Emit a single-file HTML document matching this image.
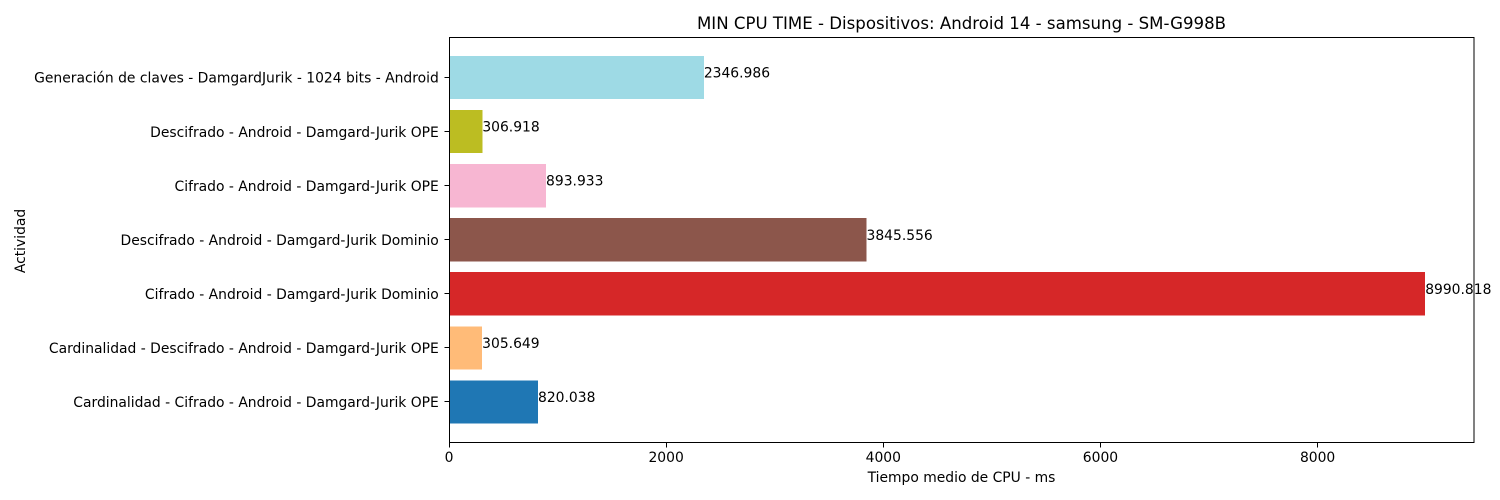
<!DOCTYPE html>
<html lang="es">
<head>
<meta charset="utf-8">
<title>MIN CPU TIME</title>
<style>
html,body{margin:0;padding:0;background:#fff;}
#chart{display:block;width:1500px;height:500px;}
text{font-family:"DejaVu Sans","Liberation Sans",sans-serif;fill:#000;font-size:13.89px;}
</style>
</head>
<body>
<svg id="chart" xmlns="http://www.w3.org/2000/svg" width="1500" height="500" viewBox="0 0 1500 500">
  <rect x="0" y="0" width="1500" height="500" fill="#ffffff"/>
  <g id="bars" shape-rendering="crispEdges"></g>
  <g id="ticks"></g>
  <rect x="449.5" y="37.5" width="1024.5" height="405" fill="none" stroke="#000" stroke-width="1" shape-rendering="crispEdges"/>
  <g id="values"></g>
  <text x="961.5" y="29" text-anchor="middle" style="font-size:16.6px">MIN CPU TIME - Dispositivos: Android 14 - samsung - SM-G998B</text>
  <text x="961.5" y="482" text-anchor="middle">Tiempo medio de CPU - ms</text>
  <text x="0" y="0" text-anchor="middle" transform="translate(25 241) rotate(-90)">Actividad</text>
</svg>
<script>
const categories = [
  "Cardinalidad - Cifrado - Android - Damgard-Jurik OPE",
  "Cardinalidad - Descifrado - Android - Damgard-Jurik OPE",
  "Cifrado - Android - Damgard-Jurik Dominio",
  "Descifrado - Android - Damgard-Jurik Dominio",
  "Cifrado - Android - Damgard-Jurik OPE",
  "Descifrado - Android - Damgard-Jurik OPE",
  "Generación de claves - DamgardJurik - 1024 bits - Android"
];
const seriesValues = [820.038, 305.649, 8990.818, 3845.556, 893.933, 306.918, 2346.986];
const barColors = ["#1f77b4", "#ffbb78", "#d62728", "#8c564b", "#f7b6d2", "#bcbd22", "#9edae5"];
const xTickValues = [0, 2000, 4000, 6000, 8000];

const NS = "http://www.w3.org/2000/svg";
const plotLeft = 449, plotRight = 1474, plotTop = 37.5, plotBottom = 442;
const xMax = 9440.36;
const yMin = -0.74, yMax = categories.length - 1 + 0.74;
const barThickness = 0.8;

function xScale(v) {
  return plotLeft + (v / xMax) * (plotRight - plotLeft);
}
function yScale(i) {
  return plotBottom - ((i - yMin) / (yMax - yMin)) * (plotBottom - plotTop);
}
function slug(s) {
  return s.toLowerCase().normalize("NFD").replace(/[^a-z0-9]+/g, "-").replace(/^-|-$/g, "");
}

const barsG = document.getElementById("bars");
const ticksG = document.getElementById("ticks");
const valuesG = document.getElementById("values");

categories.forEach(function (cat, i) {
  const v = seriesValues[i];
  const yc = yScale(i);
  const yTop = yScale(i + barThickness / 2);
  const yBot = yScale(i - barThickness / 2);

  const bar = document.createElementNS(NS, "rect");
  bar.setAttribute("x", xScale(0));
  bar.setAttribute("y", yTop);
  bar.setAttribute("width", xScale(v) - xScale(0));
  bar.setAttribute("height", yBot - yTop);
  bar.setAttribute("fill", barColors[i]);
  
  
  barsG.appendChild(bar);

  const tickY = Math.floor(yc) + 0.5;
  const tick = document.createElementNS(NS, "line");
  tick.setAttribute("x1", plotLeft - 4.5);
  tick.setAttribute("x2", plotLeft);
  tick.setAttribute("y1", tickY);
  tick.setAttribute("y2", tickY);
  tick.setAttribute("stroke", "#000");
  tick.setAttribute("stroke-width", "1");
  tick.setAttribute("shape-rendering", "crispEdges");
  
  
  ticksG.appendChild(tick);

  const label = document.createElementNS(NS, "text");
  label.setAttribute("x", 438.8);
  label.setAttribute("y", yc + 5.2);
  label.setAttribute("text-anchor", "end");
  label.textContent = cat;
  
  
  ticksG.appendChild(label);

  const val = document.createElementNS(NS, "text");
  val.setAttribute("x", xScale(v));
  val.setAttribute("y", yc + 0.03);
  val.textContent = String(v);
  
  
  valuesG.appendChild(val);
});

xTickValues.forEach(function (t) {
  const x = xScale(t);
  const tickX = Math.floor(x) + 0.5;
  const tick = document.createElementNS(NS, "line");
  tick.setAttribute("x1", tickX);
  tick.setAttribute("x2", tickX);
  tick.setAttribute("y1", plotBottom);
  tick.setAttribute("y2", plotBottom + 5.5);
  tick.setAttribute("stroke", "#000");
  tick.setAttribute("stroke-width", "1");
  tick.setAttribute("shape-rendering", "crispEdges");
  
  
  ticksG.appendChild(tick);

  const label = document.createElementNS(NS, "text");
  label.setAttribute("x", x);
  label.setAttribute("y", plotBottom + 20);
  label.setAttribute("text-anchor", "middle");
  label.textContent = String(t);
  
  
  ticksG.appendChild(label);
});
</script>
</body>
</html>
